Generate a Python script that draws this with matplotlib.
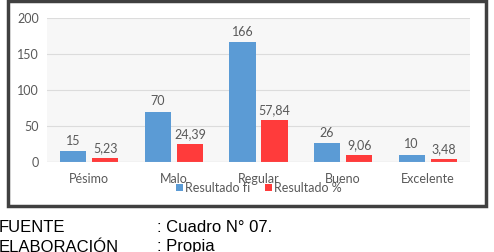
import matplotlib.pyplot as plt
from matplotlib.patches import Rectangle

categories = ['Pésimo', 'Malo', 'Regular', 'Bueno', 'Excelente']
resultado_fi = [15, 70, 166, 26, 10]
resultado_pct = [5.23, 24.39, 57.84, 9.06, 3.48]
y_ticks = [0, 50, 100, 150, 200]


def main():
    fig = plt.figure(figsize=(4.94, 2.52), dpi=100)
    ax = fig.add_axes([47 / 494, 1 - 162 / 252, 423 / 494, 144 / 252])

    x = range(len(categories))
    w = 0.31
    gap = 0.035
    blue = ax.bar([i - w / 2 - gap for i in x], resultado_fi, width=w,
                  color='#5b9bd5', label='Resultado fi', zorder=3)
    red = ax.bar([i + w / 2 + gap for i in x], resultado_pct, width=w,
                 color='#ff3b3b', label='Resultado %', zorder=3)

    for bars, vals in ((blue, resultado_fi), (red, resultado_pct)):
        for b, v in zip(bars, vals):
            txt = str(v).replace('.', ',')
            ax.text(b.get_x() + b.get_width() / 2, b.get_height() + 6, txt,
                    ha='center', va='bottom', fontsize=9, color='#595959',
                    family='Lato')

    ax.set_xlim(-0.5, 4.5)
    ax.set_ylim(0, 200)
    ax.set_yticks(y_ticks)
    ax.set_xticks(list(x))
    ax.set_xticklabels(categories)
    ax.tick_params(length=0, labelsize=9, labelcolor='#595959', pad=6)
    ax.tick_params(axis='x', pad=8)
    for lab in ax.get_xticklabels() + ax.get_yticklabels():
        lab.set_family('Lato')
    ax.set_facecolor('#f7f7f7')
    ax.grid(axis='y', color='#dcdcdc', linewidth=0.8, zorder=0)
    for s in ax.spines.values():
        s.set_visible(False)
    ax.axhline(0, color='#d0d0d0', linewidth=0.8, zorder=4)

    ax.legend(loc='upper center', bbox_to_anchor=(0.5, -0.06), ncol=2,
              frameon=False, handlelength=0.6, handleheight=0.6,
              columnspacing=1.2, handletextpad=0.1, labelcolor='#595959',
              prop={'family': 'Lato', 'size': 9})

    # outer frame of the chart
    fig.patches.append(Rectangle((8 / 494, 1 - 206 / 252), 478 / 494, 205 / 252,
                                 transform=fig.transFigure, fill=False,
                                 edgecolor='#404040', linewidth=2.5))

    fig.text(-0.002, 1 - 227 / 252, 'FUENTE', fontsize=12, family='Liberation Sans',
             va='center', ha='left')
    fig.text(157 / 494, 1 - 227 / 252, ': Cuadro N° 07.', fontsize=12,
             family='Liberation Sans', va='center', ha='left')
    fig.text(-0.002, 1 - 247 / 252, 'ELABORACIÓN', fontsize=12, family='Liberation Sans',
             va='center', ha='left')
    fig.text(157 / 494, 1 - 247 / 252, ': Propia', fontsize=12,
             family='Liberation Sans', va='center', ha='left')

    fig.savefig('out.png', dpi=100)


main()
